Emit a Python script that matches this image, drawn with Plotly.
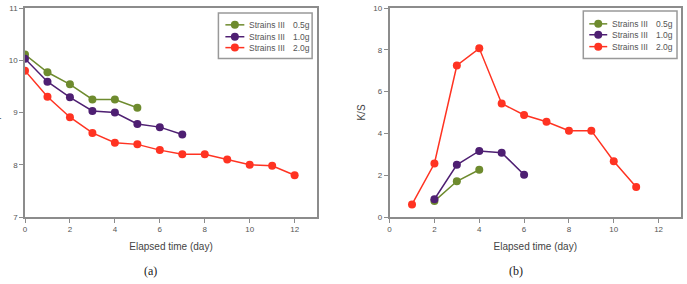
import plotly.graph_objects as go

# ---- data ----
days_a_05 = [0, 1, 2, 3, 4, 5]
ph_05 = [10.11, 9.77, 9.54, 9.25, 9.25, 9.09]
days_a_10 = [0, 1, 2, 3, 4, 5, 6, 7]
ph_10 = [10.03, 9.59, 9.29, 9.03, 9.00, 8.78, 8.72, 8.58]
days_a_20 = [0, 1, 2, 3, 4, 5, 6, 7, 8, 9, 10, 11, 12]
ph_20 = [9.80, 9.30, 8.91, 8.61, 8.42, 8.39, 8.28, 8.20, 8.20, 8.10, 8.00, 7.98, 7.80]

days_b_05 = [2, 3, 4]
ks_05 = [0.76, 1.71, 2.26]
days_b_10 = [2, 3, 4, 5, 6]
ks_10 = [0.85, 2.50, 3.16, 3.08, 2.02]
days_b_20 = [1, 2, 3, 4, 5, 6, 7, 8, 9, 10, 11]
ks_20 = [0.60, 2.56, 7.25, 8.07, 5.43, 4.88, 4.56, 4.13, 4.13, 2.67, 1.43]

strain_label = "Strains III"
doses = ["0.5g", "1.0g", "2.0g"]
colors = ["#6e8b2e", "#4e1f72", "#ff3322"]

x_ticks = [0, 2, 4, 6, 8, 10, 12]
y_ticks_a = [7, 8, 9, 10, 11]
y_ticks_b = [0, 2, 4, 6, 8, 10]

FONT = "Liberation Sans"
AX = "#8c8c8c"
W, H = 687, 284
ML, MR, MT, MB = 25, 4, 6, 67
PW, PH = W - ML - MR, H - MT - MB


def px(xp):
    return (xp - ML) / PW


def py(yp):
    return 1 - (yp - MT) / PH


fig = go.Figure()
for xs, ys, d, c in zip([days_a_05, days_a_10, days_a_20], [ph_05, ph_10, ph_20], doses, colors):
    fig.add_trace(go.Scatter(x=xs, y=ys, name=f"{strain_label} {d}", mode="lines+markers",
                             line=dict(color=c, width=1.5), marker=dict(color=c, size=8),
                             xaxis="x", yaxis="y", showlegend=False))
for xs, ys, d, c in zip([days_b_05, days_b_10, days_b_20], [ks_05, ks_10, ks_20], doses, colors):
    fig.add_trace(go.Scatter(x=xs, y=ys, name=f"{strain_label} {d}", mode="lines+markers",
                             line=dict(color=c, width=1.5), marker=dict(color=c, size=8),
                             xaxis="x2", yaxis="y2", showlegend=False))

axis_common = dict(showgrid=False, zeroline=False, showline=True, linecolor=AX, linewidth=1.5,
                   mirror=True, ticks="outside", ticklen=4, tickcolor=AX,
                   tickfont=dict(family=FONT, size=8, color="#555555"))
title_font = dict(family=FONT, size=10, color="#444444")

fig.update_layout(
    width=W, height=H,
    margin=dict(l=ML, r=MR, t=MT, b=MB),
    plot_bgcolor="white", paper_bgcolor="white",
    showlegend=False,
    xaxis=dict(domain=[0, px(318)], range=[0, 13], tickvals=x_ticks,
               title=dict(text="Elapsed time (day)", font=title_font, standoff=10), **axis_common),
    yaxis=dict(range=[7, 11], tickvals=y_ticks_a, **axis_common),
    xaxis2=dict(domain=[px(390.7), 1.0], range=[0, 13], tickvals=x_ticks, anchor="y2",
                title=dict(text="Elapsed time (day)", font=title_font, standoff=10), **axis_common),
    yaxis2=dict(range=[0, 10], tickvals=y_ticks_b, anchor="x2",
                title=dict(text="K/S", font=title_font, standoff=6), **axis_common),
)

# ---- custom compact legends (box, sample line + marker, text) ----
legend_specs = [
    # box left, right, top, bottom, line x0, x1, text x, dose x, row ys
    dict(box=(219, 313, 11, 57), line=(226, 245), tx=248, dx=292, rows=(23, 35, 46)),
    dict(box=(585, 679, 9, 57), line=(591, 609), tx=612, dx=656, rows=(22, 33, 45)),
]
legend_font = dict(family=FONT, size=8.5, color="#555555")
for spec in legend_specs:
    l, r, t, b = spec["box"]
    fig.add_shape(type="rect", xref="paper", yref="paper", x0=px(l), x1=px(r), y0=py(b), y1=py(t),
                  line=dict(color="#999999", width=1.5), fillcolor="white", layer="above")
    for d, c, ry in zip(doses, colors, spec["rows"]):
        x0, x1 = spec["line"]
        fig.add_shape(type="line", xref="paper", yref="paper", x0=px(x0), x1=px(x1), y0=py(ry), y1=py(ry),
                      line=dict(color=c, width=1.5), layer="above")
        xm = (x0 + x1) / 2
        fig.add_shape(type="circle", xref="paper", yref="paper", xsizemode="pixel", ysizemode="pixel",
                      xanchor=px(xm), yanchor=py(ry), x0=-4, x1=4, y0=-4, y1=4,
                      fillcolor=c, line=dict(color=c, width=0), layer="above")
        fig.add_annotation(text=strain_label, xref="paper", yref="paper", x=px(spec["tx"]), y=py(ry),
                           xanchor="left", yanchor="middle", showarrow=False, font=legend_font)
        fig.add_annotation(text=d, xref="paper", yref="paper", x=px(spec["dx"]), y=py(ry),
                           xanchor="left", yanchor="middle", showarrow=False, font=legend_font)

fig.add_annotation(text="pH", xref="paper", yref="paper", x=px(3), y=py(112), textangle=-90,
                   xanchor="right", yanchor="middle", showarrow=False, font=title_font)
fig.add_annotation(text="(a)", xref="paper", yref="paper", x=px(151), y=py(272),
                   xanchor="center", yanchor="middle", showarrow=False,
                   font=dict(family="Liberation Serif", size=12, color="#222222"))
fig.add_annotation(text="(b)", xref="paper", yref="paper", x=px(517), y=py(272),
                   xanchor="center", yanchor="middle", showarrow=False,
                   font=dict(family="Liberation Serif", size=12, color="#222222"))

fig.write_html("out.html")
